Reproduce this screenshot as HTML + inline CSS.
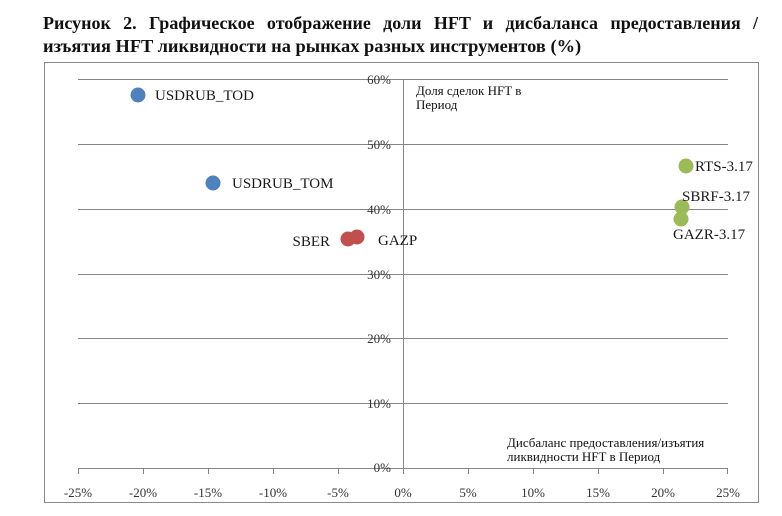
<!DOCTYPE html>
<html>
<head>
<meta charset="utf-8">
<style>
  html, body { margin:0; padding:0; background:#fff; }
  body { width:782px; height:516px; position:relative; overflow:hidden; }
  .t { position:absolute; left:43px; font-family:"Liberation Serif","Noto Serif CJK SC",serif; font-weight:bold; font-size:18px; color:#111; white-space:nowrap; }
  .l1 { top:13px; width:715px; text-align:justify; text-align-last:justify; }
  .l2 { top:36px; font-size:18.4px; }
  svg { position:absolute; left:0; top:0; }
</style>
</head>
<body>
<div class="t l1">Рисунок 2. Графическое отображение доли HFT и дисбаланса предоставления /</div>
<div class="t l2">изъятия HFT ликвидности на рынках разных инструментов (%)</div>
<svg width="782" height="516" viewBox="0 0 782 516" xmlns="http://www.w3.org/2000/svg">
  <rect x="44.5" y="62.5" width="714" height="440" fill="none" stroke="#8a8a8a" stroke-width="1"/>
  <g stroke="#858585" stroke-width="1">
    <line x1="78" y1="79.5" x2="728" y2="79.5"/>
    <line x1="78" y1="144.5" x2="728" y2="144.5"/>
    <line x1="78" y1="209.5" x2="728" y2="209.5"/>
    <line x1="78" y1="274.5" x2="728" y2="274.5"/>
    <line x1="78" y1="338.5" x2="728" y2="338.5"/>
    <line x1="78" y1="403.5" x2="728" y2="403.5"/>
    <line x1="78" y1="468.5" x2="728" y2="468.5"/>
    <line x1="403.5" y1="79" x2="403.5" y2="468"/>
    <line x1="78.5" y1="468" x2="78.5" y2="474"/>
    <line x1="143.5" y1="468" x2="143.5" y2="474"/>
    <line x1="208.5" y1="468" x2="208.5" y2="474"/>
    <line x1="273.5" y1="468" x2="273.5" y2="474"/>
    <line x1="338.5" y1="468" x2="338.5" y2="474"/>
    <line x1="403.5" y1="468" x2="403.5" y2="474"/>
    <line x1="468.5" y1="468" x2="468.5" y2="474"/>
    <line x1="533.5" y1="468" x2="533.5" y2="474"/>
    <line x1="598.5" y1="468" x2="598.5" y2="474"/>
    <line x1="663.5" y1="468" x2="663.5" y2="474"/>
    <line x1="727.5" y1="468" x2="727.5" y2="474"/>
  </g>
  <g font-family="Liberation Serif, serif" font-size="13" fill="#333" text-anchor="middle">
    <text x="78" y="497">-25%</text>
    <text x="143" y="497">-20%</text>
    <text x="208" y="497">-15%</text>
    <text x="273" y="497">-10%</text>
    <text x="338" y="497">-5%</text>
    <text x="403" y="497">0%</text>
    <text x="468" y="497">5%</text>
    <text x="533" y="497">10%</text>
    <text x="598" y="497">15%</text>
    <text x="663" y="497">20%</text>
    <text x="728" y="497">25%</text>
  </g>
  <g font-family="Liberation Serif, serif" font-size="13" fill="#333" text-anchor="end">
    <text x="391" y="84">60%</text>
    <text x="391" y="149">50%</text>
    <text x="391" y="214">40%</text>
    <text x="391" y="279">30%</text>
    <text x="391" y="343">20%</text>
    <text x="391" y="408">10%</text>
    <text x="391" y="472">0%</text>
  </g>
  <g font-family="Liberation Serif, serif" font-size="13" fill="#111">
    <text x="416" y="95">Доля сделок HFT в</text>
    <text x="416" y="109">Период</text>
    <text x="507" y="447">Дисбаланс предоставления/изъятия</text>
    <text x="507" y="461">ликвидности HFT в Период</text>
  </g>
  <g>
    <circle cx="138" cy="95" r="7.5" fill="#4F81BD"/>
    <circle cx="213" cy="183" r="7.5" fill="#4F81BD"/>
    <circle cx="348" cy="239" r="7.5" fill="#C0504D"/>
    <circle cx="357" cy="237" r="7.5" fill="#C0504D"/>
    <circle cx="686" cy="166" r="7.5" fill="#9BBB59"/>
    <circle cx="682" cy="207" r="7.5" fill="#9BBB59"/>
    <circle cx="681" cy="219" r="7.5" fill="#9BBB59"/>
  </g>
  <g font-family="Liberation Serif, serif" font-size="15" fill="#1a1a1a">
    <text x="155" y="100">USDRUB_TOD</text>
    <text x="232" y="188">USDRUB_TOM</text>
    <text x="330" y="246" text-anchor="end">SBER</text>
    <text x="378" y="245">GAZP</text>
    <text x="695" y="171">RTS-3.17</text>
    <text x="682" y="201">SBRF-3.17</text>
    <text x="673" y="239">GAZR-3.17</text>
  </g>
</svg>
</body>
</html>
